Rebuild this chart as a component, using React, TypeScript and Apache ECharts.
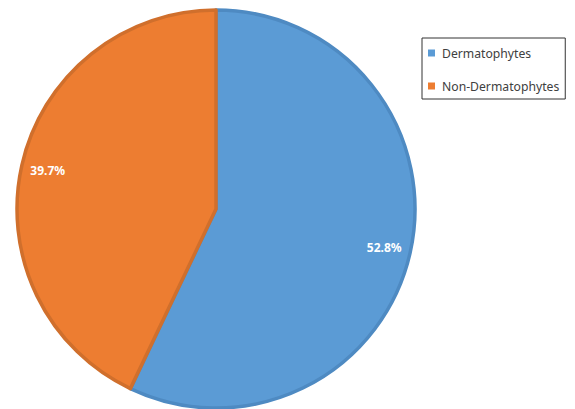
import React, { useEffect, useRef } from "react";
import * as echarts from "echarts";

const categories = ["Dermatophytes", "Non-Dermatophytes"];
const values = [52.8, 39.7];
const colors = ["#5B9BD5", "#ED7D31"];
const borderColors = ["#4E8AC2", "#D06F2C"];

export default function App() {
  const ref = useRef<HTMLDivElement>(null);
  useEffect(() => {
    document.body.style.margin = "0";
    const chart = echarts.init(ref.current!, null, { renderer: "svg" });
    const data = categories.map((name, i) => ({
      name,
      value: values[i],
      itemStyle: { color: colors[i], borderColor: borderColors[i] },
    }));
    chart.setOption({
      animation: false,
      backgroundColor: "#ffffff",
      legend: {
        orient: "vertical",
        left: 422,
        top: 38,
        icon: "rect",
        itemWidth: 7,
        itemHeight: 7,
        itemGap: 21,
        padding: [9, 6, 7, 6],
        borderColor: "#333",
        borderWidth: 1,
        borderRadius: 0,
        textStyle: { fontFamily: "Noto Sans", fontSize: 12.2, color: "#404040", padding: [0, 0, 0, 2] },
        data: categories.map((name, i) => ({ name, itemStyle: { color: colors[i], borderWidth: 0 } })),
      },
      series: [
        {
          type: "pie",
          center: [216, 209],
          radius: [0, 199],
          startAngle: 90,
          silent: true,
          label: { show: false },
          labelLine: { show: false },
          itemStyle: { borderWidth: 3.5 },
          data,
        },
        {
          type: "pie",
          center: [216, 209],
          radius: [140, 199],
          startAngle: 90,
          silent: true,
          label: {
            show: true,
            position: "inside",
            formatter: "{c}%",
            color: "#ffffff",
            fontWeight: "bold",
            fontSize: 12,
            fontFamily: "Noto Sans",
          },
          labelLine: { show: false },
          itemStyle: { color: "transparent", borderWidth: 0 },
          data: categories.map((name, i) => ({ name, value: values[i] })),
        },
      ],
    });
    return () => chart.dispose();
  }, []);
  return <div ref={ref} style={{ width: 575, height: 409 }} />;
}
